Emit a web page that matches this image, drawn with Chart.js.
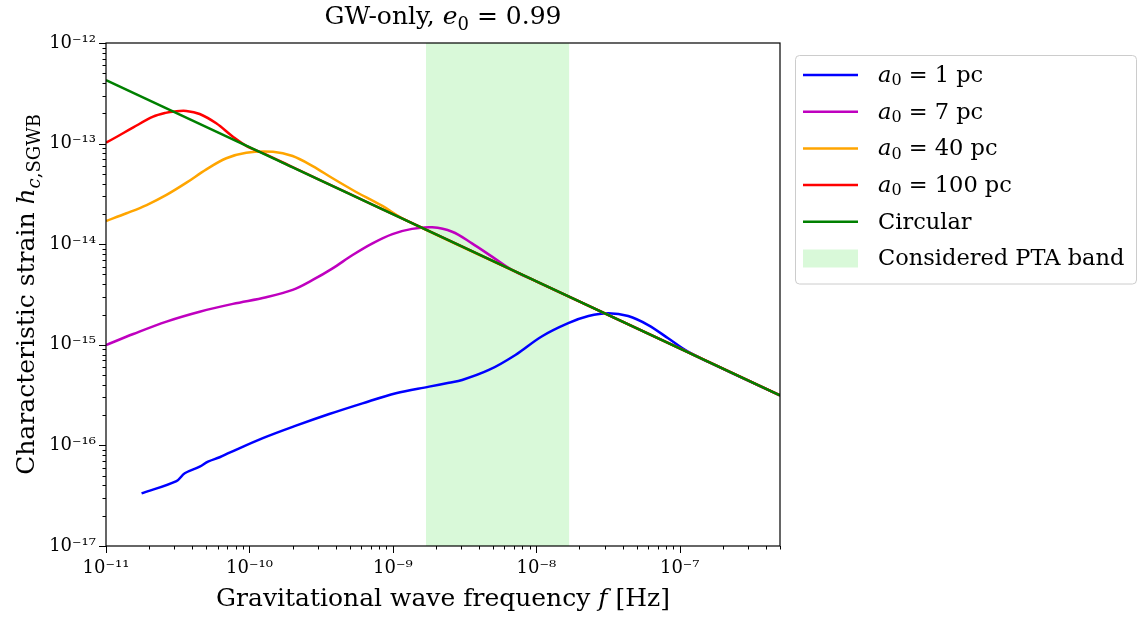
<!DOCTYPE html>
<html>
<head>
<meta charset="utf-8">
<script src="https://cdn.jsdelivr.net/npm/chart.js@4"></script>
<style>
html, body { margin: 0; padding: 0; background: #fff; }
</style>
</head>
<body>
<canvas id="strainChart" width="1139" height="617"></canvas>
<script>
// PTA band edges [Hz]
const bandEdges = [1.7e-9, 1.7e-8];

// circular binaries, h_c ~ f^(-2/3)
const circFreq = [1e-11, 5e-7];
const circStrain = [4.28e-13, 3.15e-16];

// a0 = 100 pc
const freq100 = [1e-11, 1.19e-11, 1.55e-11, 2.13e-11, 2.6e-11, 3.02e-11, 3.63e-11, 4.5e-11, 5.87e-11, 7.67e-11, 9.5e-11, 1.3e-10, 2e-10, 5e-10, 1e-9, 1e-8, 1e-7, 5e-7];
const strain100 = [1.02e-13, 1.17e-13, 1.45e-13, 1.85e-13, 2.02e-13, 2.09e-13, 2.11e-13, 1.97e-13, 1.59e-13, 1.17e-13, 9.5e-14, 7.8e-14, 5.83e-14, 3.16e-14, 1.99e-14, 4.28e-15, 9.22e-16, 3.15e-16];

// a0 = 40 pc
const freq40 = [1e-11, 1.39e-11, 1.92e-11, 2.64e-11, 3.64e-11, 5.01e-11, 6.9e-11, 9.5e-11, 1.46e-10, 2.0e-10, 2.76e-10, 3.8e-10, 5.24e-10, 8.45e-10, 1.2e-9, 1e-8, 1e-7, 5e-7];
const strain40 = [1.70e-14, 2.03e-14, 2.45e-14, 3.09e-14, 4.09e-14, 5.55e-14, 7.15e-14, 8.13e-14, 8.3e-14, 7.53e-14, 5.98e-14, 4.52e-14, 3.46e-14, 2.4e-14, 1.77e-14, 4.28e-15, 9.22e-16, 3.15e-16];

// a0 = 7 pc
const freq7 = [1e-11, 1.55e-11, 2.64e-11, 4.5e-11, 7.67e-11, 1.31e-10, 2.0e-10, 2.76e-10, 3.8e-10, 5.24e-10, 7.21e-10, 9.93e-10, 1.36e-9, 1.88e-9, 2.59e-9, 3.56e-9, 4.91e-9, 6.76e-9, 1e-8, 1e-7, 5e-7];
const strain7 = [9.95e-16, 1.28e-15, 1.70e-15, 2.13e-15, 2.55e-15, 2.97e-15, 3.51e-15, 4.41e-15, 5.75e-15, 7.81e-15, 1.02e-14, 1.26e-14, 1.42e-14, 1.47e-14, 1.33e-14, 1.02e-14, 7.52e-15, 5.55e-15, 4.28e-15, 9.22e-16, 3.15e-16];

// a0 = 1 pc
const freq1 = [1.77e-11, 3.1e-11, 3.54e-11, 4.5e-11, 5.14e-11, 6.2e-11, 7.27e-11, 1.24e-10, 2.11e-10, 3.6e-10, 6.14e-10, 1.05e-9, 1.79e-9, 2.46e-9, 3.04e-9, 4.67e-9, 7.15e-9, 1.09e-8, 1.67e-8, 2.31e-8, 3.18e-8, 4.37e-8, 6.03e-8, 8.3e-8, 1.14e-7, 1.57e-7, 2.5e-7, 5e-7];
const strain1 = [3.34e-17, 4.42e-17, 5.28e-17, 6.14e-17, 6.89e-17, 7.62e-17, 8.46e-17, 1.18e-16, 1.57e-16, 2.05e-16, 2.62e-16, 3.3e-16, 3.84e-16, 4.2e-16, 4.47e-16, 5.62e-16, 7.93e-16, 1.21e-15, 1.64e-15, 1.93e-15, 2.06e-15, 1.93e-15, 1.57e-15, 1.16e-15, 8.54e-16, 6.79e-16, 4.97e-16, 3.15e-16];

const FONT = '"DejaVu Serif", "Liberation Serif", serif';

function points(xs, ys) {
    return xs.map((x, i) => ({ x: x, y: ys[i] }));
}

function isDecade(v) {
    const l = Math.log10(v);
    return Math.abs(l - Math.round(l)) < 1e-6;
}

function logTicks(min, max) {
    const out = [];
    for (let e = Math.floor(Math.log10(min)); e <= Math.ceil(Math.log10(max)); e++) {
        for (let m = 1; m < 10; m++) {
            const v = m * Math.pow(10, e);
            if (v >= min * 0.999 && v <= max * 1.001) out.push({ value: v });
        }
    }
    return out;
}

const SUP = { '-': '⁻', '0': '⁰', '1': '¹', '2': '²', '3': '³', '4': '⁴', '5': '⁵', '6': '⁶', '7': '⁷', '8': '⁸', '9': '⁹' };
function tickLabel(v) {
    if (!isDecade(v)) return '';
    const e = String(Math.round(Math.log10(v)));
    return '10' + e.split('').map(c => SUP[c]).join('');
}

// text in runs: style '' plain, 'i' italic, 'sub' subscript, 'subi' italic subscript
function drawRuns(ctx, runs, x, y, size, center) {
    const parts = runs.map(r => {
        const sub = r[1].indexOf('sub') === 0;
        const ital = r[1] === 'i' || r[1] === 'subi';
        const s = sub ? Math.round(size * 0.7) : size;
        const font = (ital ? 'italic ' : '') + s + 'px ' + FONT;
        ctx.font = font;
        return { t: r[0], font: font, w: ctx.measureText(r[0]).width, dy: sub ? size * 0.22 : 0 };
    });
    const total = parts.reduce((a, p) => a + p.w, 0);
    let cx = center ? x - total / 2 : x;
    ctx.textAlign = 'left';
    parts.forEach(p => {
        ctx.font = p.font;
        ctx.fillText(p.t, cx, y + p.dy);
        cx += p.w;
    });
}

function legendRuns(label) {
    if (label.indexOf('a₀') === 0) return [['a', 'i'], ['0', 'sub'], [label.slice(2), '']];
    return [[label, '']];
}

const decorations = {
    id: 'decorations',
    afterDraw(chart) {
        const ctx = chart.ctx;
        const area = chart.chartArea;
        ctx.save();

        // tick marks, outward
        ctx.strokeStyle = '#000';
        ctx.lineWidth = 1;
        const xs = chart.scales.x, ys = chart.scales.y;
        ctx.beginPath();
        xs.ticks.forEach(t => {
            const px = Math.round(xs.getPixelForValue(t.value)) + 0.5;
            const len = isDecade(t.value) ? 7 : 3.5;
            ctx.moveTo(px, area.bottom);
            ctx.lineTo(px, area.bottom + len);
        });
        ys.ticks.forEach(t => {
            const py = Math.round(ys.getPixelForValue(t.value)) + 0.5;
            const len = isDecade(t.value) ? 7 : 3.5;
            ctx.moveTo(area.left, py);
            ctx.lineTo(area.left - len, py);
        });
        ctx.stroke();

        // frame
        ctx.strokeStyle = '#000';
        ctx.lineWidth = 1.2;
        ctx.strokeRect(area.left, area.top, area.right - area.left, area.bottom - area.top);

        // titles
        ctx.fillStyle = '#000';
        ctx.textBaseline = 'alphabetic';
        const midX = (area.left + area.right) / 2;
        drawRuns(ctx, [['GW-only, ', ''], ['e', 'i'], ['0', 'sub'], [' = 0.99', '']], midX, 24, 25, true);
        drawRuns(ctx, [['Gravitational wave frequency ', ''], ['f', 'i'], [' [Hz]', '']], midX, 606, 25, true);
        ctx.save();
        ctx.translate(34, (area.top + area.bottom) / 2);
        ctx.rotate(-Math.PI / 2);
        drawRuns(ctx, [['Characteristic strain ', ''], ['h', 'i'], ['c', 'subi'], [',SGWB', 'sub']], 0, 0, 25, true);
        ctx.restore();

        // legend
        const lx = area.right + 15, ly = area.top + 12;
        const rowH = 36.7;
        const sets = chart.data.datasets;
        const boxH = 20 + (sets.length - 1) * rowH + 25;
        ctx.strokeStyle = '#cccccc';
        ctx.lineWidth = 1;
        ctx.fillStyle = '#fff';
        ctx.beginPath();
        ctx.roundRect(lx + 0.5, ly + 0.5, chart.width - 3 - lx, boxH, 4);
        ctx.fill();
        ctx.stroke();
        sets.forEach((ds, i) => {
            const cy = ly + 20 + i * rowH;
            if (ds.fill) {
                ctx.fillStyle = ds.backgroundColor;
                ctx.fillRect(lx + 8, cy - 9, 55, 18);
            } else {
                ctx.strokeStyle = ds.borderColor;
                ctx.lineWidth = ds.borderWidth;
                ctx.beginPath();
                ctx.moveTo(lx + 8, cy);
                ctx.lineTo(lx + 63, cy);
                ctx.stroke();
            }
            ctx.fillStyle = '#000';
            ctx.textBaseline = 'middle';
            drawRuns(ctx, legendRuns(ds.label), lx + 83, cy + 1, 22.5, false);
        });
        ctx.restore();
    }
};

function curve(label, xs, ys, color, order) {
    return {
        label: label,
        data: points(xs, ys),
        borderColor: color,
        backgroundColor: color,
        borderWidth: 2.5,
        pointRadius: 0,
        tension: 0.35,
        fill: false,
        order: order
    };
}

new Chart(document.getElementById('strainChart'), {
    type: 'line',
    data: {
        datasets: [
            curve('a₀ = 1 pc', freq1, strain1, '#0000ff', 4),
            curve('a₀ = 7 pc', freq7, strain7, '#bf00bf', 3),
            curve('a₀ = 40 pc', freq40, strain40, '#ffa500', 2),
            curve('a₀ = 100 pc', freq100, strain100, '#ff0000', 1),
            curve('Circular', circFreq, circStrain, '#008000', 0),
            {
                label: 'Considered PTA band',
                data: points(bandEdges, [1e-12, 1e-12]),
                borderColor: 'rgba(0,0,0,0)',
                borderWidth: 0,
                backgroundColor: 'rgba(144,238,144,0.34)',
                pointRadius: 0,
                fill: 'start',
                order: 10
            }
        ]
    },
    options: {
        responsive: false,
        animation: false,
        events: [],
        layout: { padding: { left: 0, right: 359, top: 43, bottom: 0 } },
        plugins: {
            legend: { display: false },
            title: { display: false },
            tooltip: { enabled: false }
        },
        scales: {
            x: {
                type: 'logarithmic',
                min: 1e-11,
                max: 5e-7,
                afterFit: s => { s.height = 71; },
                afterBuildTicks: s => { s.ticks = logTicks(s.min, s.max); },
                grid: { display: false, drawTicks: false },
                border: { display: false },
                ticks: {
                    autoSkip: false,
                    maxRotation: 0,
                    padding: 12,
                    color: '#000',
                    font: { family: FONT, size: 18 },
                    callback: v => tickLabel(v)
                }
            },
            y: {
                type: 'logarithmic',
                min: 1e-17,
                max: 1e-12,
                afterFit: s => { s.width = 106; },
                afterBuildTicks: s => { s.ticks = logTicks(s.min, s.max); },
                grid: { display: false, drawTicks: false },
                border: { display: false },
                ticks: {
                    autoSkip: false,
                    padding: 10,
                    color: '#000',
                    font: { family: FONT, size: 18 },
                    callback: v => tickLabel(v)
                }
            }
        }
    },
    plugins: [decorations]
});
</script>
</body>
</html>
